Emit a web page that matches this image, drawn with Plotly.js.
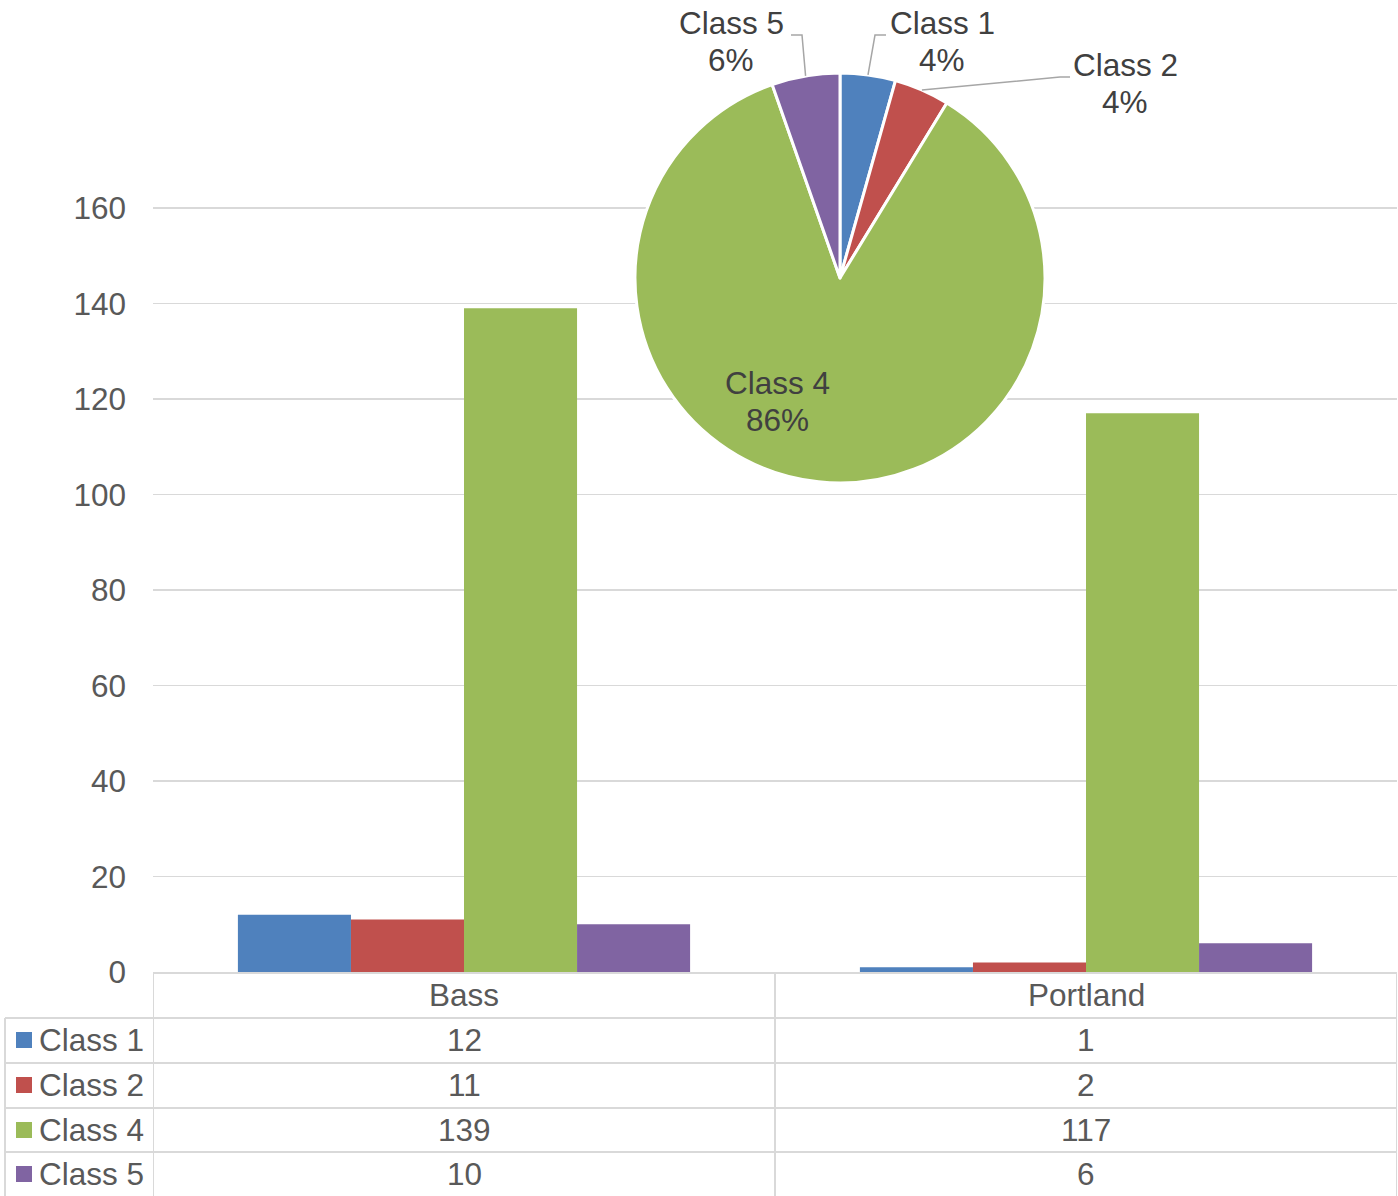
<!DOCTYPE html>
<html>
<head>
<meta charset="utf-8">
<script src="https://cdn.plot.ly/plotly-3.0.1.min.js"></script>
<style>html,body{margin:0;padding:0;background:#fff;}#chart{width:1398px;height:1196px;}</style>
</head>
<body>
<div id="chart"></div>
<script>
// ---- data ----
const categories = ['Bass', 'Portland'];
const seriesNames = ['Class 1', 'Class 2', 'Class 4', 'Class 5'];
const class1 = [12, 1];
const class2 = [11, 2];
const class4 = [139, 117];
const class5 = [10, 6];
const pieLabels = ['Class 1', 'Class 2', 'Class 4', 'Class 5'];
const piePercentText = ['4%', '4%', '86%', '6%'];
const yTickVals = [0, 20, 40, 60, 80, 100, 120, 140, 160];

// ---- styles ----
const W = 1398, H = 1196;
const colors = ['#4F81BD', '#C0504D', '#9BBB59', '#8064A2'];
const FONT = 'Liberation Sans, Arial, sans-serif';
const FS = 31.5;
const TXT = '#595959';
const PIETXT = '#404040';
const LINE = '#D9D9D9';
const yMax = 161;
const plotLeft = 153, plotRight = 1397, plotBottom = 972;
const pxPerUnit = (972 - 208) / 160;
const plotTop = plotBottom - yMax * pxPerUnit;
const pieCx = 840, pieCy = 278, pieR = 205;
const headerCenter = 995;
const rowCenters = [1040, 1085, 1130, 1174];
const rowLines = [1018, 1063, 1108, 1152];
const px = x => x / W;
const py = y => 1 - y / H;

const seriesValues = [class1, class2, class4, class5];
const pieValues = seriesValues.map(v => v.reduce((a, b) => a + b, 0));

const traces = seriesValues.map((vals, i) => ({
  type: 'bar', name: seriesNames[i], x: categories, y: vals,
  marker: {color: colors[i], line: {width: 0}},
  xaxis: 'x', yaxis: 'y', hoverinfo: 'x+y+name'
}));

traces.push({
  type: 'pie', labels: pieLabels, values: pieValues, sort: false,
  direction: 'clockwise', rotation: 0, textinfo: 'none',
  marker: {colors: colors, line: {color: '#FFFFFF', width: 3}},
  domain: {x: [px(pieCx - pieR), px(pieCx + pieR)], y: [py(pieCy + pieR), py(pieCy - pieR)]},
  showlegend: false
});

const shapes = [];
const annotations = [];

// table lines
rowLines.forEach(y => shapes.push({type: 'line', xref: 'paper', yref: 'paper',
  x0: px(5), x1: px(plotRight), y0: py(y), y1: py(y), line: {color: LINE, width: 2}}));
shapes.push({type: 'line', xref: 'paper', yref: 'paper', x0: px(5), x1: px(5),
  y0: py(rowLines[0]), y1: 0, line: {color: LINE, width: 2}});
[-0.5, 0.5, 1.5].forEach(xv => shapes.push({type: 'line', xref: 'x', yref: 'paper',
  x0: xv, x1: xv, y0: py(plotBottom), y1: 0, line: {color: LINE, width: 2}}));

// table header (categories)
categories.forEach(c => annotations.push({xref: 'x', yref: 'paper', x: c, y: py(headerCenter),
  xanchor: 'center', yanchor: 'middle', text: c, showarrow: false,
  font: {family: FONT, size: FS, color: TXT}}));

// table row headers and values
seriesValues.forEach((vals, i) => {
  shapes.push({type: 'rect', xref: 'paper', yref: 'paper', x0: px(16), x1: px(32),
    y0: py(rowCenters[i] + 8), y1: py(rowCenters[i] - 8), fillcolor: colors[i], line: {width: 0}});
  annotations.push({xref: 'paper', yref: 'paper', x: px(37), y: py(rowCenters[i]),
    xanchor: 'left', yanchor: 'middle', text: seriesNames[i], showarrow: false,
    font: {family: FONT, size: FS, color: TXT}});
  vals.forEach((v, j) => annotations.push({xref: 'x', yref: 'paper', x: categories[j],
    y: py(rowCenters[i]), xanchor: 'center', yanchor: 'middle', text: String(v),
    showarrow: false, font: {family: FONT, size: FS, color: TXT}}));
});

// pie labels
const labelPos = [
  {x: 942, y1: 23, y2: 60, elbow: [875, 35], end: [886, 35]},
  {x: 1125, y1: 65, y2: 102, elbow: [1060, 77], end: [1070, 77]},
  {x: 777, y1: 383, y2: 420, elbow: null},
  {x: 731, y1: 23, y2: 60, elbow: [802, 35], end: [791, 35]}
];
const total = pieValues.reduce((a, b) => a + b, 0);
let cum = 0;
pieValues.forEach((v, i) => {
  const mid = (cum + v / 2) / total * 2 * Math.PI;
  cum += v;
  const p = labelPos[i];
  annotations.push({xref: 'paper', yref: 'paper', x: px(p.x), y: py(p.y1), xanchor: 'center',
    yanchor: 'middle', text: pieLabels[i], showarrow: false, font: {family: FONT, size: FS, color: PIETXT}});
  annotations.push({xref: 'paper', yref: 'paper', x: px(p.x), y: py(p.y2), xanchor: 'center',
    yanchor: 'middle', text: piePercentText[i], showarrow: false, font: {family: FONT, size: FS, color: PIETXT}});
  if (p.elbow) {
    const tx = pieCx + pieR * Math.sin(mid), ty = pieCy - pieR * Math.cos(mid);
    shapes.push({type: 'path', xref: 'paper', yref: 'paper',
      path: `M ${px(tx)},${py(ty)} L ${px(p.elbow[0])},${py(p.elbow[1])} L ${px(p.end[0])},${py(p.end[1])}`,
      line: {color: '#A6A6A6', width: 1.5}});
  }
});

const layout = {
  width: W, height: H, margin: {l: 0, r: 0, t: 0, b: 0},
  paper_bgcolor: '#FFFFFF', plot_bgcolor: 'rgba(0,0,0,0)',
  showlegend: false, barmode: 'group', bargap: 0.273, bargroupgap: 0,
  font: {family: FONT, size: FS, color: TXT},
  xaxis: {domain: [px(plotLeft), px(plotRight)], type: 'category', range: [-0.5, 1.5],
    showgrid: false, zeroline: false, showline: true, linecolor: LINE, linewidth: 2,
    ticks: '', showticklabels: false, fixedrange: true},
  yaxis: {domain: [py(plotBottom), py(plotTop)], range: [0, yMax], tickvals: yTickVals,
    showgrid: true, gridcolor: LINE, gridwidth: 1.5, zeroline: false, showline: false,
    ticks: '', tickfont: {family: FONT, size: FS, color: TXT}, ticklabelstandoff: 26, fixedrange: true},
  shapes: shapes, annotations: annotations
};

Plotly.newPlot('chart', traces, layout, {displayModeBar: false, staticPlot: true});
</script>
</body>
</html>
